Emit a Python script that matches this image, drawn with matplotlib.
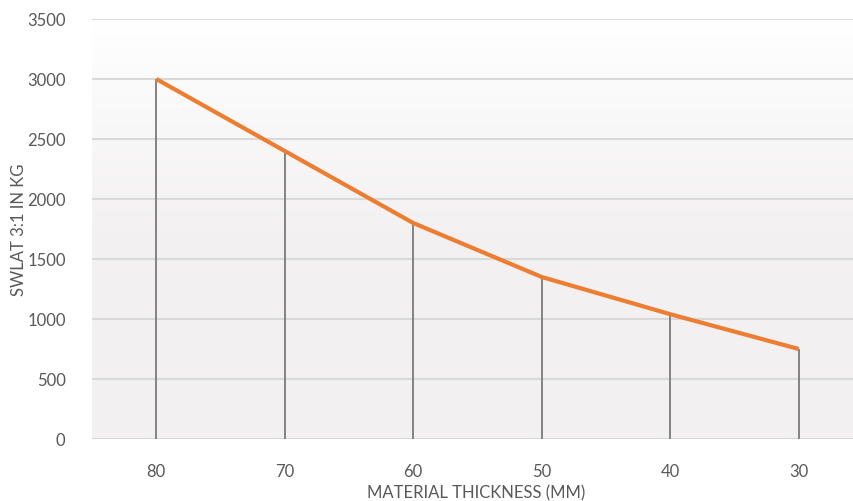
import numpy as np
import matplotlib.pyplot as plt
from matplotlib.colors import LinearSegmentedColormap

thickness = ["80", "70", "60", "50", "40", "30"]
swl = [3000, 2400, 1800, 1350, 1040, 750]
yticks = [0, 500, 1000, 1500, 2000, 2500, 3000, 3500]

plt.rcParams['font.family'] = ['Lato', 'DejaVu Sans']

fig = plt.figure(figsize=(8.54, 5.02), dpi=100)
ax = fig.add_axes([92 / 854, 62 / 502, (854 - 92) / 854, 420 / 502])

x = np.arange(len(thickness))

# soft white (top) -> grey (bottom) background
grad = np.linspace(0, 1, 256).reshape(-1, 1)
bg = LinearSegmentedColormap.from_list('bg', ['#f2f0f0', '#f3f1f1', '#ffffff'])
ax.imshow(grad, extent=[-0.5, 5.43, 0, 3500], aspect='auto',
          cmap=bg, origin='lower', zorder=0)

for v in yticks:
    ax.axhline(v, color='#d9d9d9', lw=1.5, zorder=1)

ax.vlines(x, 0, swl, color='#7a7a7a', lw=1.3, zorder=2)
ax.plot(x, swl, color='#ed7d31', lw=3, zorder=3, solid_capstyle='butt')

ax.set_xlim(-0.5, 5.43)
ax.set_ylim(0, 3500)
ax.set_xticks(x)
ax.set_xticklabels(thickness)
ax.set_yticks(yticks)
for s in ax.spines.values():
    s.set_visible(False)
ax.tick_params(length=0, labelsize=12, labelcolor='#595959')
ax.tick_params(axis='y', pad=19)
ax.tick_params(axis='x', pad=17)
ax.set_xlabel("MATERIAL THICKNESS (MM)", fontsize=12, color='#595959', va='center')
ax.set_ylabel("SWLAT 3:1 IN KG", fontsize=12, color='#595959', va='center')
ax.xaxis.set_label_coords((476 - 92) / 762, -53 / 420)
ax.yaxis.set_label_coords((19 - 92) / 762, 0.5)

fig.savefig("out.png", dpi=100)
